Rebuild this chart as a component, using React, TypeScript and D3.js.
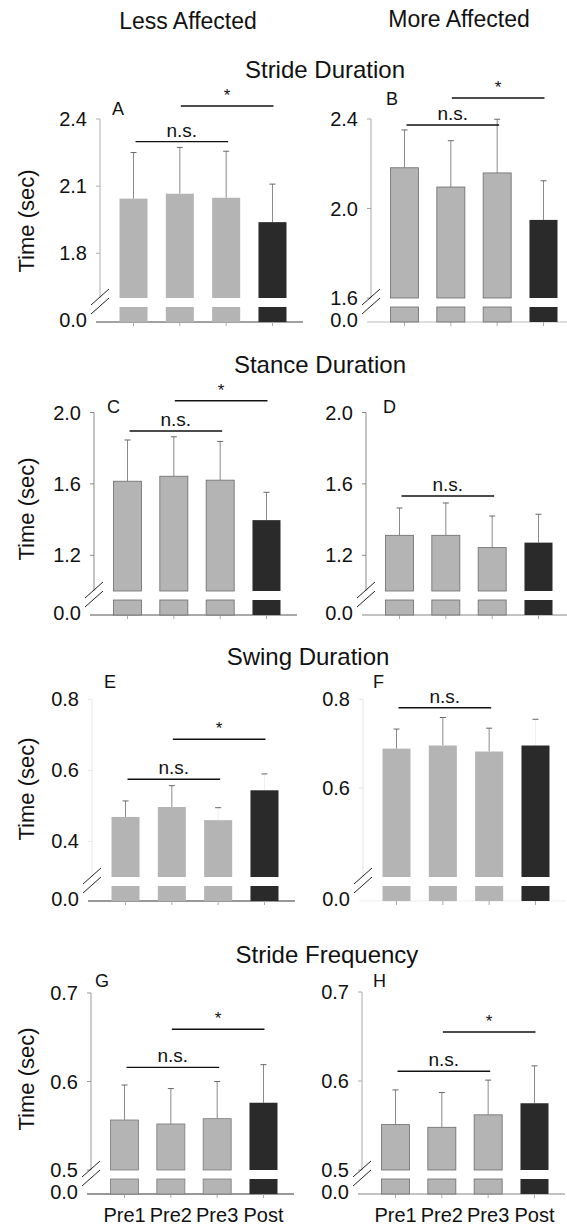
import React from "react";
import * as d3 from "d3";

// ---------- data ----------
const categories = ["Pre1", "Pre2", "Pre3", "Post"];
const columnHeaders = ["Less Affected", "More Affected"];
const sectionTitles = ["Stride Duration", "Stance Duration", "Swing Duration", "Stride Frequency"];
const yAxisTitle = "Time (sec)";

const strideLessMean = [2.044, 2.066, 2.048, 1.939];
const strideLessSD = [0.206, 0.207, 0.208, 0.17];
const strideMoreMean = [2.182, 2.096, 2.159, 1.949];
const strideMoreSD = [0.169, 0.207, 0.24, 0.175];

const stanceLessMean = [1.615, 1.643, 1.621, 1.397];
const stanceLessSD = [0.231, 0.221, 0.217, 0.156];
const stanceMoreMean = [1.312, 1.312, 1.243, 1.271];
const stanceMoreSD = [0.153, 0.181, 0.177, 0.159];

const swingLessMean = [0.469, 0.497, 0.46, 0.544];
const swingLessSD = [0.045, 0.06, 0.035, 0.046];
const swingMoreMean = [0.689, 0.696, 0.6825, 0.696];
const swingMoreSD = [0.044, 0.063, 0.0525, 0.059];

const freqLessMean = [0.5565, 0.552, 0.558, 0.576];
const freqLessSD = [0.0395, 0.04, 0.042, 0.043];
const freqMoreMean = [0.551, 0.548, 0.562, 0.575];
const freqMoreSD = [0.039, 0.039, 0.039, 0.042];

const ticksStrideLess = [1.8, 2.1, 2.4];
const ticksStrideMore = [1.6, 2.0, 2.4];
const ticksStance = [1.2, 1.6, 2.0];
const ticksSwingLess = [0.4, 0.6, 0.8];
const ticksSwingMore = [0.6, 0.8];
const ticksFreq = [0.5, 0.6, 0.7];

// ---------- layout ----------
const FONT = "'Liberation Sans', Arial, Helvetica, sans-serif";
const GREY = "#b4b4b4";
const DARK = "#2a2a2a";

type P = {
  id: string; mean: number[]; sd: number[]; lo: number; hi: number; ticks: number[];
  ax: number; top: number; U: number; base: number;
  ns: number; star: number | null; lx: number; ly: number;
  yAxisColor: string; xAxisColor: string; faintStems: number[]; edge: string | null;
};

const panels: P[] = [
  { id: "A", mean: strideLessMean, sd: strideLessSD, lo: 1.6, hi: 2.4, ticks: ticksStrideLess,
    ax: 100, top: 119, U: 298, base: 322, ns: 2.299, star: 2.458, lx: 112, ly: 115,
    yAxisColor: "#b0b0b0", xAxisColor: "#444", faintStems: [], edge: null },
  { id: "B", mean: strideMoreMean, sd: strideMoreSD, lo: 1.6, hi: 2.4, ticks: ticksStrideMore,
    ax: 371, top: 119, U: 298, base: 322, ns: 2.373, star: 2.494, lx: 386, ly: 105,
    yAxisColor: "#a8a8a8", xAxisColor: "#bbb", faintStems: [], edge: "#6a6a6a" },
  { id: "C", mean: stanceLessMean, sd: stanceLessSD, lo: 1.0, hi: 2.0, ticks: ticksStance,
    ax: 94, top: 412.5, U: 591, base: 615, ns: 1.896, star: 2.066, lx: 107, ly: 413,
    yAxisColor: "#888", xAxisColor: "#555", faintStems: [], edge: "#6a6a6a" },
  { id: "D", mean: stanceMoreMean, sd: stanceMoreSD, lo: 1.0, hi: 2.0, ticks: ticksStance,
    ax: 366, top: 412.5, U: 591, base: 615, ns: 1.532, star: null, lx: 383, ly: 413,
    yAxisColor: "#888", xAxisColor: "#888", faintStems: [], edge: "#6a6a6a" },
  { id: "E", mean: swingLessMean, sd: swingLessSD, lo: 0.3, hi: 0.8, ticks: ticksSwingLess,
    ax: 92, top: 699.3, U: 877, base: 901, ns: 0.575, star: 0.6875, lx: 104, ly: 688,
    yAxisColor: "#e8e8e8", xAxisColor: "#333", faintStems: [2, 3], edge: null },
  { id: "F", mean: swingMoreMean, sd: swingMoreSD, lo: 0.4, hi: 0.8, ticks: ticksSwingMore,
    ax: 363, top: 699.3, U: 877, base: 901, ns: 0.781, star: null, lx: 373, ly: 688,
    yAxisColor: "#e4e4e4", xAxisColor: "#eeeeee", faintStems: [3], edge: null },
  { id: "G", mean: freqLessMean, sd: freqLessSD, lo: 0.5, hi: 0.7, ticks: ticksFreq,
    ax: 91, top: 993, U: 1170, base: 1194, ns: 0.616, star: 0.659, lx: 95, ly: 987,
    yAxisColor: "#999", xAxisColor: "#333", faintStems: [], edge: "#7a7a7a" },
  { id: "H", mean: freqMoreMean, sd: freqMoreSD, lo: 0.5, hi: 0.7, ticks: ticksFreq,
    ax: 362, top: 992, U: 1170, base: 1194, ns: 0.611, star: 0.655, lx: 373, ly: 987,
    yAxisColor: "#aaa", xAxisColor: "#888", faintStems: [], edge: "#6a6a6a" },
];

const sectionLayout = [
  { cx: 325, by: 78 },
  { cx: 320, by: 373 },
  { cx: 308, by: 665 },
  { cx: 327, by: 963 },
];
const headerLayout = [
  { cx: 188, by: 29 },
  { cx: 459, by: 27 },
];
const yTitleCenters = [221, 509, 789, 1079];

function Panel({ p, showX }: { p: P; showX: boolean }) {
  const x = d3.scaleBand<string>().domain(categories).range([p.ax, p.ax + 206])
    .paddingInner(0.395).paddingOuter(0.421);
  const y = d3.scaleLinear().domain([p.lo, p.hi]).range([p.U, p.top]);
  const bw = x.bandwidth();
  const lowTop = p.U + 9;
  const cx = (c: string) => (x(c) as number) + bw / 2;
  const fmt = d3.format(".1f");
  return (
    <g>
      {/* y axis */}
      <line x1={p.ax} x2={p.ax} y1={y(p.hi)} y2={p.U} stroke={p.yAxisColor} strokeWidth={1} />
      {p.ticks.map((t) => (
        <g key={t}>
          <line x1={p.ax - 4} x2={p.ax} y1={y(t)} y2={y(t)} stroke={p.yAxisColor} />
          <text x={p.ax - 13} y={y(t)} dy="0.35em" textAnchor="end" fontSize={20} fontFamily={FONT} fill="#111">
            {fmt(t)}
          </text>
        </g>
      ))}
      <text x={p.ax - 13} y={p.base - 2} dy="0.35em" textAnchor="end" fontSize={20} fontFamily={FONT} fill="#111">
        {fmt(0)}
      </text>
      {/* break marks */}
      {[p.U - 1, p.U + 8].map((cy, i) => (
        <line key={i} x1={p.ax - 9} y1={cy + 8} x2={p.ax + 9} y2={cy - 8} stroke="#222" strokeWidth={1} />
      ))}
      {/* x axis */}
      <line x1={p.ax - 4} x2={p.ax + 203} y1={p.base} y2={p.base} stroke={p.xAxisColor} strokeWidth={1.2} />
      {categories.map((c) => (
        <line key={c} x1={cx(c)} x2={cx(c)} y1={p.base} y2={p.base + 4} stroke="#aaa" />
      ))}
      {/* bars */}
      {categories.map((c, i) => {
        const fill = i === 3 ? DARK : GREY;
        const top = y(p.mean[i]);
        const eTop = y(p.mean[i] + p.sd[i]);
        const stem = p.faintStems.includes(i) ? "#f0f0f0" : "#8a8a8a";
        const stroke = i === 3 || !p.edge ? "none" : p.edge;
        return (
          <g key={c}>
            <line x1={cx(c)} x2={cx(c)} y1={top} y2={eTop} stroke={stem} strokeWidth={1} />
            <line x1={cx(c) - 3} x2={cx(c) + 3} y1={eTop} y2={eTop} stroke="#666" strokeWidth={1} />
            <rect x={x(c)} y={top} width={bw} height={p.U - top} fill={fill} stroke={stroke} strokeWidth={0.8} />
            <rect x={x(c)} y={lowTop} width={bw} height={p.base - lowTop} fill={fill} stroke={stroke} strokeWidth={0.8} />
          </g>
        );
      })}
      {/* significance */}
      <line x1={cx(categories[0]) + 2} x2={cx(categories[2]) + 2} y1={y(p.ns)} y2={y(p.ns)} stroke="#111" strokeWidth={1.4} />
      <text x={(cx(categories[0]) + cx(categories[2])) / 2 + 2} y={y(p.ns) - 5} textAnchor="middle" fontSize={19} fontFamily={FONT} fill="#111">
        n.s.
      </text>
      {p.star !== null && (
        <g>
          <line x1={cx(categories[1]) + 1} x2={cx(categories[3]) + 1} y1={y(p.star)} y2={y(p.star)} stroke="#111" strokeWidth={1.4} />
          <text x={(cx(categories[1]) + cx(categories[3])) / 2 + 1} y={y(p.star) - 5} textAnchor="middle" fontSize={17} fontFamily={FONT} fill="#111">
            *
          </text>
        </g>
      )}
      {/* panel letter */}
      <text x={p.lx} y={p.ly} fontSize={18} fontFamily={FONT} fill="#111">{p.id}</text>
      {showX && categories.map((c) => (
        <text key={c} x={cx(c)} y={1222} textAnchor="middle" fontSize={20} fontFamily={FONT} fill="#111">{c}</text>
      ))}
    </g>
  );
}

export default function App() {
  return (
    <svg width={567} height={1226} viewBox="0 0 567 1226"
      style={{ position: "absolute", left: 0, top: 0, background: "#fff", display: "block" }}>
      <rect width={567} height={1226} fill="#fff" />
      {columnHeaders.map((h, i) => (
        <text key={h} x={headerLayout[i].cx} y={headerLayout[i].by} textAnchor="middle" fontSize={23} fontFamily={FONT} fill="#111">{h}</text>
      ))}
      {sectionTitles.map((t, i) => (
        <text key={t} x={sectionLayout[i].cx} y={sectionLayout[i].by} textAnchor="middle" fontSize={24} fontFamily={FONT} fill="#111">{t}</text>
      ))}
      {yTitleCenters.map((cy, i) => (
        <text key={i} transform={`translate(34,${cy}) rotate(-90)`} textAnchor="middle" fontSize={22} fontFamily={FONT} fill="#111">{yAxisTitle}</text>
      ))}
      {panels.map((p, i) => (
        <Panel key={p.id} p={p} showX={i >= 6} />
      ))}
    </svg>
  );
}
